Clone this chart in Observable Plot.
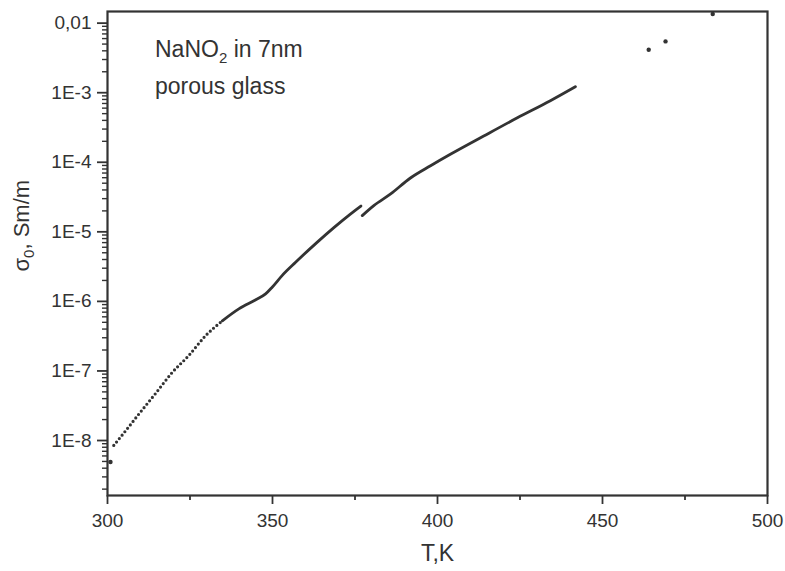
<!DOCTYPE html>
<html>
<head>
<meta charset="utf-8">
<script src="https://cdn.jsdelivr.net/npm/d3@7"></script>
<script src="https://cdn.jsdelivr.net/npm/@observablehq/plot@0.6"></script>
<style>
  html, body { margin: 0; padding: 0; background: #fff; }
  svg { display: block; }
</style>
</head>
<body>
<div id="chart"></div>
<script>
// Low-temperature part (sparse dots)
const tempA  = [301.9, 305.5, 309.5, 314.5, 319.6, 324.6, 329.7, 334.8];
const sigmaA = [8.5e-9, 1.38e-8, 2.4e-8, 4.7e-8, 9.5e-8, 1.66e-7, 3.2e-7, 5.25e-7];
// Dense part up to the jump
const tempB  = [334.8, 339.8, 344.8, 347.9, 349.9, 352.9, 357.0, 363.5, 368.6, 373.6, 376.8];
const sigmaB = [5.25e-7, 7.8e-7, 1.05e-6, 1.28e-6, 1.6e-6, 2.35e-6, 3.65e-6, 7.06e-6, 1.15e-5, 1.8e-5, 2.35e-5];
// Dense part after the jump
const tempC  = [377.2, 380.7, 385.8, 391.8, 397.9, 403.9, 414.0, 424.2, 434.2, 441.8];
const sigmaC = [1.71e-5, 2.38e-5, 3.5e-5, 5.94e-5, 8.9e-5, 1.3e-4, 2.38e-4, 4.35e-4, 7.67e-4, 1.22e-3];
// Isolated points
const tempD  = [300.9, 464.0, 469.1, 483.4];
const sigmaD = [4.9e-9, 4.15e-3, 5.46e-3, 1.35e-2];

const xTicks = [300, 350, 400, 450, 500];
const xMinorTicks = [325, 375, 425, 475];
const yTicks = [1e-8, 1e-7, 1e-6, 1e-5, 1e-4, 1e-3, 1e-2];
const yTickLabels = ["1E-8", "1E-7", "1E-6", "1E-5", "1E-4", "1E-3", "0,01"];
const yMinorTicks = [2e-9,3e-9,4e-9,5e-9,6e-9,7e-9,8e-9,9e-9,
  2e-8,3e-8,4e-8,5e-8,6e-8,7e-8,8e-8,9e-8,
  2e-7,3e-7,4e-7,5e-7,6e-7,7e-7,8e-7,9e-7,
  2e-6,3e-6,4e-6,5e-6,6e-6,7e-6,8e-6,9e-6,
  2e-5,3e-5,4e-5,5e-5,6e-5,7e-5,8e-5,9e-5,
  2e-4,3e-4,4e-4,5e-4,6e-4,7e-4,8e-4,9e-4,
  2e-3,3e-3,4e-3,5e-3,6e-3,7e-3,8e-3,9e-3];

const xLabel = "T,K";
const yLabel = "σ0, Sm/m";
const noteLines = ["NaNO2 in 7nm", "porous glass"];

const zip = (t, s) => t.map((v, i) => ({T: v, s: s[i]}));
const segA = zip(tempA, sigmaA);
const segB = zip(tempB, sigmaB);
const segC = zip(tempC, sigmaC);
const segD = zip(tempD, sigmaD);
const labelMap = new Map(yTicks.map((d, i) => [d, yTickLabels[i]]));

const ink = "#333";
const plot = Plot.plot({
  width: 785,
  height: 571,
  marginLeft: 107,
  marginRight: 18,
  marginTop: 11,
  marginBottom: 76,
  style: {fontFamily: "'Liberation Sans', Arial, sans-serif", color: ink, background: "#fff"},
  x: {domain: [300, 500]},
  y: {type: "log", domain: [1.62e-9, 0.0147]},
  marks: [
    Plot.axisX({ticks: xTicks, tickSize: 9, tickPadding: 9, fontSize: 19, label: null, strokeWidth: 1.8}),
    Plot.axisX({ticks: xMinorTicks, tickSize: 5, text: null, label: null, strokeWidth: 1.8}),
    Plot.axisY({ticks: yTicks, tickFormat: d => labelMap.get(d), tickSize: 10, tickPadding: 6, fontSize: 19, label: null, strokeWidth: 1.8}),
    Plot.axisY({ticks: yMinorTicks, tickSize: 5, text: null, label: null, strokeWidth: 1.4}),
    Plot.frame({stroke: ink, strokeWidth: 2.2}),
    Plot.line(segA, {x: "T", y: "s", curve: "monotone-x", stroke: ink, strokeWidth: 3.2, strokeDasharray: "0 4.4", strokeLinecap: "round"}),
    Plot.line(segB, {x: "T", y: "s", curve: "monotone-x", stroke: ink, strokeWidth: 2.8, strokeLinecap: "round"}),
    Plot.line(segC, {x: "T", y: "s", curve: "monotone-x", stroke: ink, strokeWidth: 2.8, strokeLinecap: "round"}),
    Plot.dot(segD, {x: "T", y: "s", r: 2.2, fill: ink, stroke: null}),
    Plot.text([xLabel], {frameAnchor: "bottom", dy: 65, fontSize: 23, fill: ink, text: d => d, className: "xlab"}),
    Plot.text([yLabel], {frameAnchor: "left", dx: -86, dy: 18, rotate: -90, fontSize: 22, fill: ink, text: d => d, className: "ylab"}),
    Plot.text(noteLines, {frameAnchor: "top-left", fontSize: 23, fill: ink, textAnchor: "start", text: d => d, className: "note"})
  ]
});
document.getElementById("chart").appendChild(plot);

// Place annotation lines & subscripts
const svg = d3.select(plot);
svg.selectAll("g.note").attr("transform", null);
svg.selectAll("g.note text").each(function(d, i) {
  const t = d3.select(this);
  const txt = t.text();
  t.attr("transform", null).attr("x", 155).attr("y", i === 0 ? 57 : 94).attr("dy", null);
  if (txt.startsWith("NaNO2")) {
    t.text(null);
    t.append("tspan").text("NaNO");
    t.append("tspan").attr("font-size", 15).attr("dy", 6).text("2");
    t.append("tspan").attr("dy", -6).text(" in 7nm");
  }
});
svg.selectAll("g.ylab text").each(function() {
  const t = d3.select(this);
  t.text(null);
  t.append("tspan").text("σ");
  t.append("tspan").attr("font-size", 15).attr("dy", 5).text("0");
  t.append("tspan").attr("dy", -5).text(", Sm/m");
});
</script>
</body>
</html>
